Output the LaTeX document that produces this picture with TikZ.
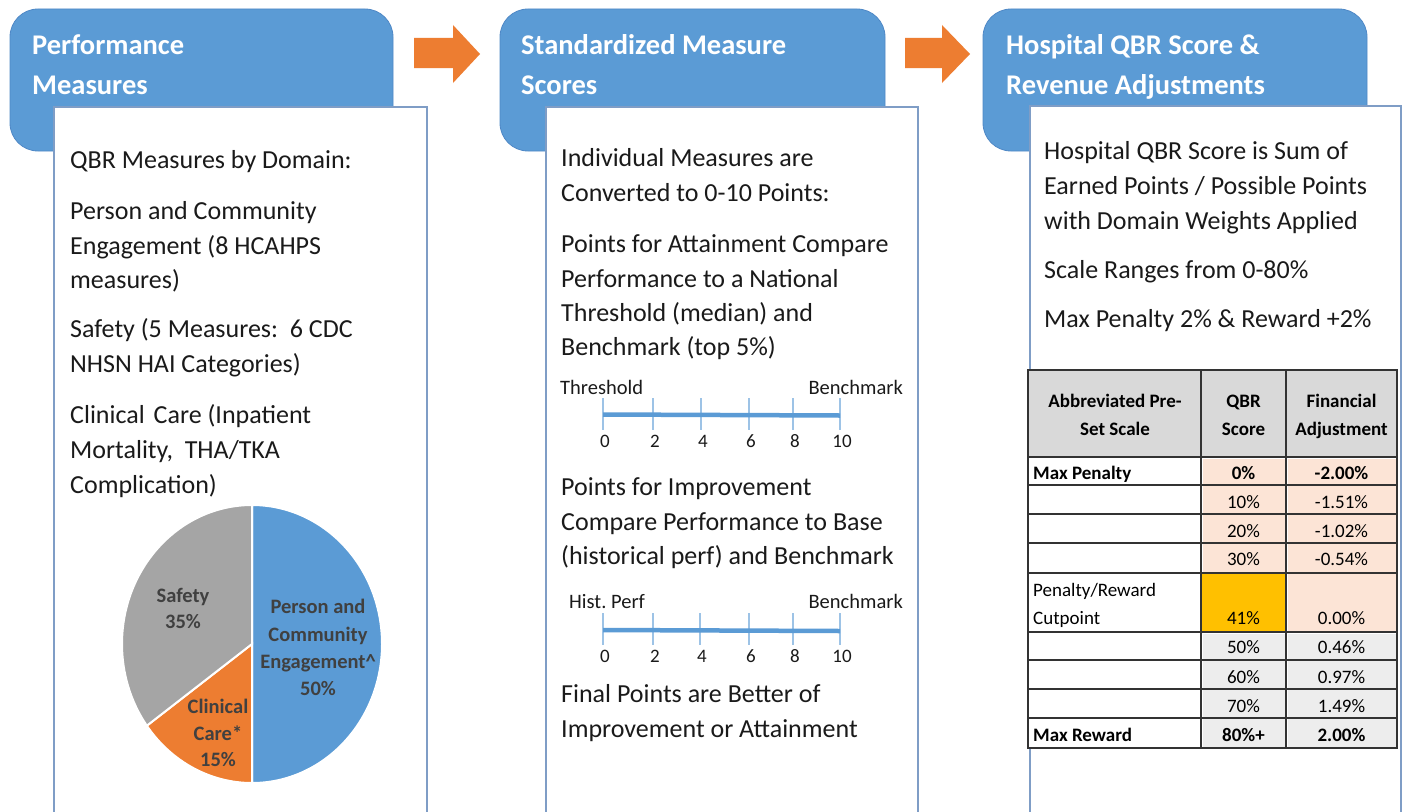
\documentclass[tikz,border=0pt]{standalone}
\usepackage{fontspec}
\setmainfont{Carlito}
\definecolor{hblue}{HTML}{5B9BD5}
\definecolor{hblueline}{HTML}{4F88C6}
\definecolor{horange}{HTML}{ED7D31}
\definecolor{hgray}{HTML}{A5A5A5}
\definecolor{boxline}{HTML}{7F9DC6}
\definecolor{txt}{HTML}{1A1A1A}
\definecolor{piet}{HTML}{404040}
\definecolor{peach}{HTML}{FCE4D6}
\definecolor{gold}{HTML}{FFC000}
\definecolor{lgray}{HTML}{EDEDED}
\definecolor{hdr}{HTML}{D9D9D9}
\definecolor{tickc}{HTML}{9DC3E6}
\definecolor{grid}{HTML}{333333}
\begin{document}
\begin{tikzpicture}[x=1bp,y=-1bp,
  header/.style={fill=hblue, draw=hblueline, line width=0.8bp, rounded corners=28bp},
  panel/.style={fill=white, draw=boxline, line width=1.2bp},
  blockarrow/.style={fill=horange, draw=none},
  title/.style={text=white, font=\fontsize{28.5bp}{39bp}\selectfont\bfseries, anchor=base west, inner sep=0pt},
  body/.style={text=txt, font=\fontsize{26bp}{35bp}\selectfont, anchor=base west, inner sep=0pt},
  scalelbl/.style={text=txt, font=\fontsize{20.5bp}{24bp}\selectfont, anchor=base, inner sep=0pt},
  scalenum/.style={text=txt, font=\fontsize{19bp}{24bp}\selectfont, anchor=base, inner sep=0pt},
  scaleline/.style={draw=hblue, line width=4.5bp},
  scaletick/.style={draw=tickc, line width=1.3bp},
  pielbl/.style={text=piet, font=\fontsize{20.5bp}{27bp}\selectfont\bfseries, align=center, inner sep=0pt, anchor=base},
  tbl/.style={text=black, font=\fontsize{19bp}{28bp}\selectfont, anchor=base, inner sep=0pt},
  tblb/.style={tbl, font=\fontsize{19bp}{28bp}\selectfont\bfseries},
  gridline/.style={draw=grid, line width=1.5bp}
]
\useasboundingbox[fill=white] (0,0) rectangle (1403,811);

% ---------- headers ----------
\draw[header] (10,9) rectangle (393,151);
\draw[header] (500,9) rectangle (885,151);
\draw[header] (983,9) rectangle (1367,151);

\node[title] (t1a) at (32,55) {Performance};
\node[title] (t1b) at (32,94) {Measures};
\node[title] (t2a) at (521,55) {Standardized Measure};
\node[title] (t2b) at (521,94) {Scores};
\node[title] (t3a) at (1006,55) {Hospital QBR Score \&};
\node[title] (t3b) at (1006,94) {Revenue Adjustments};

% ---------- arrows ----------
\fill[blockarrow] (414,38) -- (453,38) -- (453,25) -- (480,54) -- (453,83) -- (453,68) -- (414,68) -- cycle;
\fill[blockarrow] (905,38) -- (942,38) -- (942,25) -- (970,54) -- (942,83) -- (942,68) -- (905,68) -- cycle;

% ---------- panels ----------
\draw[panel] (54,107) rectangle (427,840);
\draw[panel] (546,107) rectangle (918,840);
\draw[panel] (1030,106) rectangle (1401,840);

% ---------- panel 1 text ----------
\node[body] (p1) at (70,168) {QBR Measures by Domain:};
\node[body] (p2) at (70,219) {Person and Community};
\node[body] (p3) at (70,254) {Engagement (8 HCAHPS};
\node[body] (p4) at (70,288) {measures)};
\node[body] (p5) at (70,337) {Safety (5 Measures:\ \ 6 CDC};
\node[body] (p6) at (70,372) {NHSN HAI Categories)};
\node[body] (p7) at (70,423) {Clinical\hspace{9bp}Care (Inpatient};
\node[body] (p8) at (70,458) {Mortality,\ \ THA/TKA};
\node[body] (p9) at (70,493) {Complication)};

% ---------- pie ----------
\begin{scope}[shift={(252,644)}, yscale=-1]
  \filldraw[fill=hblue, draw=white, line width=2bp] (0,0) -- (90:130 and 139) arc[start angle=90, end angle=-90, x radius=130, y radius=139] -- cycle;
  \filldraw[fill=horange, draw=white, line width=2bp] (0,0) -- (-90:130 and 139) arc[start angle=-90, end angle=-144, x radius=130, y radius=139] -- cycle;
  \filldraw[fill=hgray, draw=white, line width=2bp] (0,0) -- (90:130 and 139) arc[start angle=90, end angle=216, x radius=130, y radius=139] -- cycle;
\end{scope}
\node[pielbl] (ps1) at (183,602) {Safety};
\node[pielbl] (ps2) at (183,628) {35\%};
\node[pielbl] (pp1) at (318,613) {Person and};
\node[pielbl] (pp2) at (318,641) {Community};
\node[pielbl] (pp3) at (318,668) {Engagement\^{}};
\node[pielbl] (pp4) at (318,695) {50\%};
\node[pielbl] (pc1) at (218,713) {Clinical};
\node[pielbl] (pc2) at (218,740) {Care*};
\node[pielbl] (pc3) at (218,766) {15\%};

% ---------- panel 2 text ----------
\node[body] (m1) at (561,166) {Individual Measures are};
\node[body] (m2) at (561,201) {Converted to 0-10 Points:};
\node[body] (m3) at (561,252) {Points for Attainment Compare};
\node[body] (m4) at (561,287) {Performance to a National};
\node[body] (m5) at (561,321) {Threshold (median) and};
\node[body] (m6) at (561,355) {Benchmark (top 5\%)};
\node[body] (m7) at (561,495) {Points for Improvement};
\node[body] (m8) at (561,530) {Compare Performance to Base};
\node[body] (m9) at (561,564) {(historical perf) and Benchmark};
\node[body] (m10) at (561,702) {Final Points are Better of};
\node[body] (m11) at (561,737) {Improvement or Attainment};

% scale 1
\node[scalelbl, anchor=base west] (s1l) at (560,394) {Threshold};
\node[scalelbl, anchor=base east] (s1r) at (903,394) {Benchmark};
\foreach \xx/\nn [count=\i] in {603/0,653/2,701/4,749/6,793/8,840/10}{
  \draw[scaletick] (\xx,398) -- (\xx,430);
  \node[scalenum] (sa\i) at (\xx+2,447) {\nn};
}
\draw[scaleline] (603,414.5) -- (840,415.5);
% scale 2
\node[scalelbl, anchor=base west] (s2l) at (569,608) {Hist.\ Perf};
\node[scalelbl, anchor=base east] (s2r) at (903,608) {Benchmark};
\foreach \xx/\nn [count=\i] in {603/0,653/2,700/4,749/6,793/8,840/10}{
  \draw[scaletick] (\xx,613) -- (\xx,645);
  \node[scalenum] (sb\i) at (\xx+2,662) {\nn};
}
\draw[scaleline] (603,630) -- (840,631);

% ---------- panel 3 text ----------
\node[body] (h1) at (1044,159) {Hospital QBR Score is Sum of};
\node[body] (h2) at (1044,194) {Earned Points / Possible Points};
\node[body] (h3) at (1044,229) {with Domain Weights Applied};
\node[body] (h4) at (1044,278) {Scale Ranges from 0-80\%};
\node[body] (h5) at (1044,327) {Max Penalty 2\% \& Reward +2\%};

% ---------- table ----------
\fill[hdr] (1028,370) rectangle (1397,457);
\fill[white] (1028,457) rectangle (1201,748);
\fill[peach] (1202.5,458.5) rectangle (1284.5,571.5);
\fill[peach] (1287.5,458.5) rectangle (1395.5,630.5);
\fill[gold] (1201,573) rectangle (1286,632);
\fill[lgray] (1202.5,633.5) rectangle (1284.5,746.5);
\fill[lgray] (1287.5,633.5) rectangle (1395.5,746.5);
\foreach \yy in {457,485,514,543,573,632,660,689,718}{
  \draw[gridline] (1028,\yy) -- (1397,\yy);
}
\draw[gridline] (1201,370) -- (1201,748);
\draw[gridline] (1286,370) -- (1286,748);
\draw[gridline] (1028,370) rectangle (1397,748);

\node[tblb] (th1) at (1115,407) {Abbreviated Pre-};
\node[tblb] (th2) at (1115,435) {Set Scale};
\node[tblb] (th3) at (1243.5,407) {QBR};
\node[tblb] (th4) at (1243.5,435) {Score};
\node[tblb] (th5) at (1341.5,407) {Financial};
\node[tblb] (th6) at (1341.5,435) {Adjustment};

\node[tblb, anchor=base west] (r1a) at (1033,479) {Max Penalty};
\node[tblb] (r1b) at (1243.5,479) {0\%};
\node[tblb] (r1c) at (1341.5,479) {-2.00\%};
\node[tbl] (r2b) at (1243.5,508) {10\%};
\node[tbl] (r2c) at (1341.5,508) {-1.51\%};
\node[tbl] (r3b) at (1243.5,537) {20\%};
\node[tbl] (r3c) at (1341.5,537) {-1.02\%};
\node[tbl] (r4b) at (1243.5,565) {30\%};
\node[tbl] (r4c) at (1341.5,565) {-0.54\%};
\node[tbl, anchor=base west] (r5a) at (1033,596) {Penalty/Reward};
\node[tbl, anchor=base west] (r5d) at (1033,624) {Cutpoint};
\node[tbl] (r5b) at (1243.5,624) {41\%};
\node[tbl] (r5c) at (1341.5,624) {0.00\%};
\node[tbl] (r6b) at (1243.5,653) {50\%};
\node[tbl] (r6c) at (1341.5,653) {0.46\%};
\node[tbl] (r7b) at (1243.5,683) {60\%};
\node[tbl] (r7c) at (1341.5,683) {0.97\%};
\node[tbl] (r8b) at (1243.5,712) {70\%};
\node[tbl] (r8c) at (1341.5,712) {1.49\%};
\node[tblb, anchor=base west] (r9a) at (1033,741) {Max Reward};
\node[tblb] (r9b) at (1243.5,741) {80\%+};
\node[tblb] (r9c) at (1341.5,741) {2.00\%};
\end{tikzpicture}
\end{document}
